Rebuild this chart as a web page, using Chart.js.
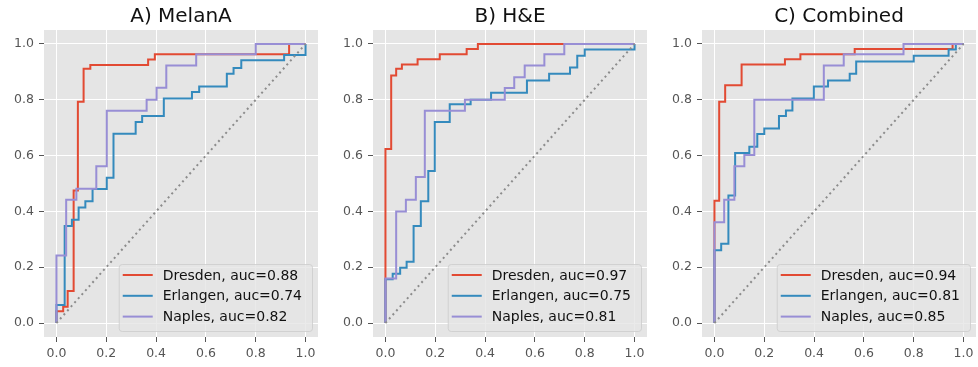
<!DOCTYPE html>
<html lang="en">
<head>
  <meta charset="UTF-8">
  <script src="https://cdn.jsdelivr.net/npm/chart.js"></script>
  <style>
    body, html {
      margin: 0;
      padding: 0;
      background: white;
      font-family: 'DejaVu Sans', sans-serif;
    }
    .wrap {
      position: relative;
      width: 978px;
      height: 367px;
    }
    .wrap canvas {
      position: absolute;
      top: 0;
    }
  </style>
</head>
<body>
  <div class="wrap">
    <canvas id="rocA" width="321" height="367" style="left:0px"></canvas>
    <canvas id="rocB" width="321" height="367" style="left:329px"></canvas>
    <canvas id="rocC" width="321" height="367" style="left:658px"></canvas>
  </div>
  <script>
    // panel titles and series names
    const panelTitles = ["A) MelanA", "B) H&E", "C) Combined"];
    const seriesNames = ["Dresden", "Erlangen", "Naples"];
    const tickValues = [0, 0.2, 0.4, 0.6, 0.8, 1.0];

    // auc per panel, in seriesNames order
    const melanaAuc = [0.88, 0.74, 0.82];
    const heAuc = [0.97, 0.75, 0.81];
    const combinedAuc = [0.94, 0.81, 0.85];

    // ROC corner points (fpr, tpr)
    const melanaDresdenFpr = [0, 0, 0.027, 0.045, 0.069, 0.086, 0.109, 0.136, 0.368, 0.395, 0.934, 1.0];
    const melanaDresdenTpr = [0, 0.042, 0.058, 0.115, 0.475, 0.793, 0.911, 0.925, 0.944, 0.963, 1.0, 1.0];
    const melanaErlangenFpr = [0, 0, 0.033, 0.062, 0.089, 0.116, 0.145, 0.202, 0.229, 0.318, 0.344, 0.431, 0.544, 0.573, 0.684, 0.711, 0.742, 0.914, 1.0];
    const melanaErlangenTpr = [0, 0.065, 0.348, 0.37, 0.414, 0.436, 0.48, 0.521, 0.678, 0.72, 0.742, 0.805, 0.828, 0.848, 0.893, 0.914, 0.942, 0.96, 1.0];
    const melanaNaplesFpr = [0, 0, 0.039, 0.08, 0.16, 0.202, 0.362, 0.402, 0.441, 0.561, 0.80, 1.0];
    const melanaNaplesTpr = [0, 0.242, 0.442, 0.481, 0.562, 0.761, 0.80, 0.843, 0.923, 0.963, 1.0, 1.0];

    const heDresdenFpr = [0, 0, 0.023, 0.043, 0.066, 0.129, 0.218, 0.326, 0.371, 1.0];
    const heDresdenTpr = [0, 0.624, 0.887, 0.911, 0.926, 0.945, 0.963, 0.982, 1.0, 1.0];
    const heErlangenFpr = [0, 0, 0.029, 0.059, 0.085, 0.113, 0.142, 0.172, 0.198, 0.258, 0.342, 0.424, 0.568, 0.657, 0.741, 0.77, 0.80, 1.0];
    const heErlangenTpr = [0, 0.157, 0.177, 0.198, 0.22, 0.348, 0.436, 0.545, 0.72, 0.784, 0.80, 0.825, 0.869, 0.893, 0.916, 0.958, 0.98, 1.0];
    const heNaplesFpr = [0, 0, 0.043, 0.082, 0.122, 0.158, 0.319, 0.479, 0.517, 0.559, 0.638, 0.718, 1.0];
    const heNaplesTpr = [0, 0.16, 0.40, 0.442, 0.523, 0.761, 0.80, 0.842, 0.881, 0.923, 0.963, 1.0, 1.0];

    const combinedDresdenFpr = [0, 0, 0.019, 0.043, 0.109, 0.283, 0.345, 0.563, 0.956, 1.0];
    const combinedDresdenTpr = [0, 0.438, 0.793, 0.852, 0.926, 0.945, 0.963, 0.982, 1.0, 1.0];
    const combinedErlangenFpr = [0, 0, 0.027, 0.056, 0.083, 0.14, 0.172, 0.20, 0.259, 0.287, 0.313, 0.399, 0.456, 0.543, 0.569, 0.80, 0.94, 0.969, 1.0];
    const combinedErlangenTpr = [0, 0.261, 0.284, 0.457, 0.609, 0.632, 0.677, 0.697, 0.742, 0.762, 0.805, 0.848, 0.869, 0.893, 0.937, 0.958, 0.98, 1.0, 1.0];
    const combinedNaplesFpr = [0, 0, 0.039, 0.08, 0.12, 0.16, 0.439, 0.519, 0.759, 1.0];
    const combinedNaplesTpr = [0, 0.361, 0.442, 0.562, 0.602, 0.80, 0.923, 0.963, 1.0, 1.0];

    const chanceFpr = [0, 1];
    const chanceTpr = [0, 1];

    // ggplot style colours
    const seriesColors = ['#E24A33', '#348ABD', '#988ED5'];

    function toPoints(xs, ys) {
      return xs.map((x, i) => ({x: x, y: ys[i]}));
    }

    function createDatasets(curves, aucs) {
      const sets = curves.map((c, i) => ({
        label: seriesNames[i] + ', auc=' + aucs[i].toFixed(2),
        data: toPoints(c[0], c[1]),
        borderColor: seriesColors[i],
        borderWidth: 2,
        stepped: 'before',
        pointRadius: 0,
        fill: false,
        order: 10 - i   // later series drawn on top, like matplotlib
      }));
      sets.push({
        label: 'chance',
        data: toPoints(chanceFpr, chanceTpr),
        borderColor: '#8c8c8c',
        borderWidth: 2,
        borderDash: [2, 3.4],
        pointRadius: 0,
        fill: false,
        order: 0,
        isChance: true
      });
      return sets;
    }

    // grey panel, title and legend like matplotlib ggplot style
    const panelPlugin = {
      id: 'panel',
      beforeDraw(chart) {
        const a = chart.chartArea;
        const ctx = chart.ctx;
        ctx.save();
        ctx.fillStyle = '#E5E5E5';
        ctx.fillRect(a.left, a.top, a.right - a.left, a.bottom - a.top);
        ctx.restore();
      },
      afterDraw(chart) {
        const a = chart.chartArea;
        const ctx = chart.ctx;
        ctx.save();
        ctx.fillStyle = '#111';
        ctx.font = '20px "DejaVu Sans"';
        ctx.textAlign = 'center';
        ctx.textBaseline = 'alphabetic';
        ctx.fillText(chart.options.panelTitle, (a.left + a.right) / 2, 22);

        // legend box, lower right
        const sets = chart.data.datasets.filter(d => !d.isChance);
        ctx.font = '14px "DejaVu Sans"';
        let tw = 0;
        sets.forEach(d => { tw = Math.max(tw, ctx.measureText(d.label).width); });
        const w = 44 + tw + 10;
        const h = 67;
        const x0 = a.right - 6 - w;
        const y0 = a.bottom - 6 - h;
        ctx.globalAlpha = 0.8;
        ctx.fillStyle = '#E5E5E5';
        ctx.strokeStyle = '#CCCCCC';
        ctx.lineWidth = 1;
        ctx.beginPath();
        ctx.roundRect(x0 + 0.5, y0 + 0.5, w, h, 3);
        ctx.fill();
        ctx.stroke();
        ctx.globalAlpha = 1;
        ctx.textAlign = 'left';
        ctx.textBaseline = 'middle';
        sets.forEach((d, i) => {
          const cy = y0 + 11 + i * 20.8;
          ctx.strokeStyle = d.borderColor;
          ctx.lineWidth = 2;
          ctx.beginPath();
          ctx.moveTo(x0 + 4, cy);
          ctx.lineTo(x0 + 34, cy);
          ctx.stroke();
          ctx.fillStyle = '#111';
          ctx.fillText(d.label, x0 + 44, cy + 1);
        });
        ctx.restore();
      }
    };

    function fixTicks(scale) {
      scale.ticks = tickValues.map(v => ({value: v}));
    }

    function createRocChart(ctxId, title, datasets) {
      const ctx = document.getElementById(ctxId).getContext('2d');
      return new Chart(ctx, {
        type: 'line',
        data: { datasets: datasets },
        plugins: [panelPlugin],
        options: {
          panelTitle: title,
          responsive: false,
          animation: false,
          devicePixelRatio: 1,
          layout: { padding: { top: 30, right: 3, left: 0, bottom: 0 } },
          plugins: {
            legend: { display: false },
            title: { display: false },
            tooltip: { enabled: false }
          },
          scales: {
            x: {
              type: 'linear',
              min: -0.05,
              max: 1.05,
              afterBuildTicks: fixTicks,
              afterFit(scale) { scale.height = 30; },
              border: { display: false },
              grid: { color: '#FFFFFF', lineWidth: 1, tickColor: '#555555', tickLength: 5 },
              ticks: {
                color: '#555555',
                padding: 4,
                maxRotation: 0,
                font: { family: 'DejaVu Sans', size: 12.5 },
                callback: v => v.toFixed(1)
              }
            },
            y: {
              type: 'linear',
              min: -0.05,
              max: 1.05,
              afterBuildTicks: fixTicks,
              afterFit(scale) { scale.width = 44; },
              border: { display: false },
              grid: { color: '#FFFFFF', lineWidth: 1, tickColor: '#555555', tickLength: 5 },
              ticks: {
                color: '#555555',
                padding: 5,
                font: { family: 'DejaVu Sans', size: 12.5 },
                callback: v => v.toFixed(1)
              }
            }
          }
        }
      });
    }

    createRocChart('rocA', panelTitles[0], createDatasets([
      [melanaDresdenFpr, melanaDresdenTpr],
      [melanaErlangenFpr, melanaErlangenTpr],
      [melanaNaplesFpr, melanaNaplesTpr]
    ], melanaAuc));
    createRocChart('rocB', panelTitles[1], createDatasets([
      [heDresdenFpr, heDresdenTpr],
      [heErlangenFpr, heErlangenTpr],
      [heNaplesFpr, heNaplesTpr]
    ], heAuc));
    createRocChart('rocC', panelTitles[2], createDatasets([
      [combinedDresdenFpr, combinedDresdenTpr],
      [combinedErlangenFpr, combinedErlangenTpr],
      [combinedNaplesFpr, combinedNaplesTpr]
    ], combinedAuc));
  </script>
</body>
</html>
